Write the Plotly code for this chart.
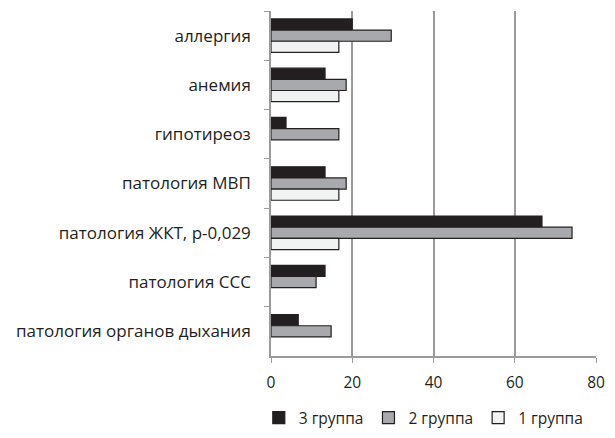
import plotly.graph_objects as go

categories = ["аллергия", "анемия", "гипотиреоз", "патология МВП",
              "патология ЖКТ, р-0,029", "патология ССС", "патология органов дыхания"]
group3 = [20.0, 13.3, 3.7, 13.3, 66.7, 13.3, 6.7]
group2 = [29.6, 18.5, 16.7, 18.5, 74.1, 11.1, 14.8]
group1 = [16.7, 16.7, 0, 16.7, 16.7, 0, 0]
series_names = ["3 группа", "2 группа", "1 группа"]
colors = ["#231f20", "#a7a9ac", "#f1f2f2"]
x_ticks = [0, 20, 40, 60, 80]

fig = go.Figure()
for name, vals, col in zip(series_names, [group3, group2, group1], colors):
    fig.add_trace(go.Bar(
        y=categories, x=[v if v else None for v in vals], name=name, orientation="h",
        marker=dict(color=col, line=dict(color="#231f20", width=1.2)),
    ))

font_family = "Open Sans, Liberation Sans, sans-serif"
fig.update_layout(
    width=607, height=430,
    barmode="group", bargap=0.32, bargroupgap=0,
    plot_bgcolor="white", paper_bgcolor="white",
    margin=dict(l=263, r=19, t=3, b=82, autoexpand=False),
    font=dict(family=font_family, size=15, color="#231f20"),
    legend=dict(orientation="h", xref="container", yref="container",
                x=0.685, xanchor="center", y=0.0465, yanchor="middle",
                font=dict(size=15.5), traceorder="normal", itemwidth=30),
    showlegend=True,
)
fig.update_xaxes(
    range=[0, 80], tickvals=x_ticks, showgrid=True, gridcolor="#9b9b9b", gridwidth=1.5,
    showline=True, linecolor="#9b9b9b", linewidth=1.5, ticks="outside", ticklen=5,
    tickcolor="#9b9b9b", tickfont=dict(size=15.5), zeroline=False, automargin=False,
    ticklabelstandoff=7,
)
fig.update_yaxes(
    autorange="reversed", showline=True, linecolor="#9b9b9b", linewidth=1.5,
    ticks="outside", ticklen=5, tickcolor="#9b9b9b", tickson="boundaries",
    tickfont=dict(size=17), ticklabelstandoff=15, showgrid=False, automargin=False,
)
fig.write_html("out.html")
